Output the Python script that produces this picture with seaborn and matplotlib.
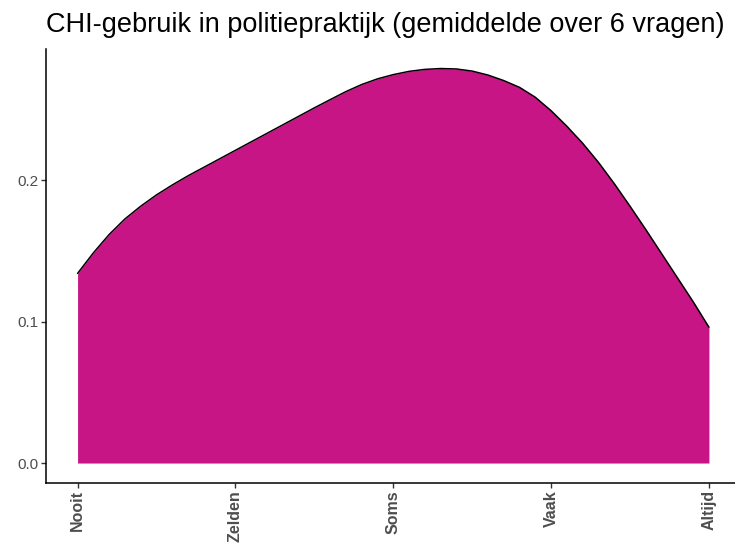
import matplotlib
matplotlib.use("Agg")
import matplotlib.pyplot as plt
import seaborn as sns
import numpy as np
import pandas as pd

# Data (density of mean score over 6 questions)
x_values = [1.0, 1.1, 1.2, 1.3, 1.4, 1.5, 1.6, 1.7, 1.8, 1.9,
            2.0, 2.1, 2.2, 2.3, 2.4, 2.5, 2.6, 2.7, 2.8, 2.9,
            3.0, 3.1, 3.2, 3.3, 3.4, 3.5, 3.6, 3.7, 3.8, 3.9,
            4.0, 4.1, 4.2, 4.3, 4.4, 4.5, 4.6, 4.7, 4.8, 4.9, 5.0]
density = [0.1340, 0.1485, 0.1615, 0.1725, 0.1815, 0.1895, 0.1965, 0.2030, 0.2090, 0.2150,
           0.2210, 0.2270, 0.2330, 0.2390, 0.2450, 0.2510, 0.2568, 0.2625, 0.2675, 0.2715,
           0.2745, 0.2768, 0.2782, 0.2788, 0.2785, 0.2770, 0.2742, 0.2703, 0.2655, 0.2585,
           0.2490, 0.2380, 0.2260, 0.2125, 0.1975, 0.1815, 0.1650, 0.1480, 0.1310, 0.1140, 0.0960]
tick_positions = [1, 2, 3, 4, 5]
tick_labels = ["Nooit", "Zelden", "Soms", "Vaak", "Altijd"]
y_ticks = [0.0, 0.1, 0.2]
title = "CHI-gebruik in politiepraktijk (gemiddelde over 6 vragen)"

df = pd.DataFrame({"x": x_values, "density": density})

sns.set_style("white")
plt.rcParams["font.family"] = ["Liberation Sans", "DejaVu Sans"]

fig = plt.figure(figsize=(7.35, 5.43), dpi=100)
ax = fig.add_axes([46.0 / 735, 1 - 482.7 / 543, (740.5 - 46.0) / 735, (482.7 - 49.3) / 543])

ax.fill_between(df["x"], 0, df["density"], color="#C71585", linewidth=0, zorder=1)
sns.lineplot(data=df, x="x", y="density", ax=ax, color="black", linewidth=1.1, zorder=2)

ax.set_xlim(0.8, 5.2)
ax.set_ylim(-0.0139, 0.2924)
ax.set_xticks(tick_positions)
ax.set_xticklabels(tick_labels, rotation=90, fontsize=11.5, fontweight="bold", color="#4D4D4D")
ax.set_yticks(y_ticks)
ax.set_yticklabels([f"{v:.1f}" for v in y_ticks], fontsize=11, color="#4D4D4D")
ax.set_xlabel("")
ax.set_ylabel("")
ax.tick_params(axis="both", bottom=True, left=True, length=3.5, width=1, color="#333333", direction="out")
ax.tick_params(axis="x", pad=2)
ax.tick_params(axis="y", pad=2)

for s in ["top", "right"]:
    ax.spines[s].set_visible(False)
for s in ["left", "bottom"]:
    ax.spines[s].set_color("black")
    ax.spines[s].set_linewidth(1.1)

fig.text(46 / 735, 1 - 25 / 543, title, fontsize=19.5, color="black", ha="left", va="center")

fig.savefig("out.png", dpi=100)
